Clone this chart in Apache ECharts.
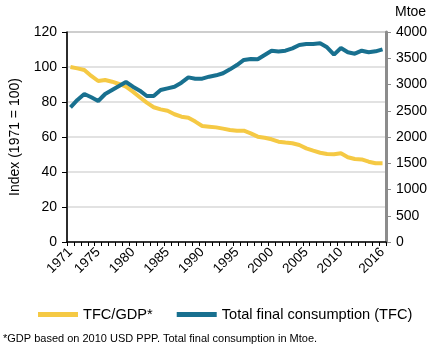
<!DOCTYPE html>
<html>
<head>
<meta charset="utf-8">
<script src="https://cdn.jsdelivr.net/npm/echarts@6/dist/echarts.min.js"></script>
<style>
  html, body { margin: 0; padding: 0; background: #fff; }
  #chart { width: 440px; height: 353px; }
</style>
</head>
<body>
<div id="chart"></div>
<script>
// years 1971..2016
var years = [];
for (var y = 1971; y <= 2016; y++) years.push(String(y));

// TFC/GDP index (1971 = 100), left axis
var tfcGdp = [100, 99.2, 98.3, 94.9, 92, 92.6, 91.6, 90.3, 88.8, 85.9,
  82.7, 79.6, 77, 75.8, 75, 73, 71.6, 71, 68.8, 66.3,
  65.9, 65.5, 64.8, 64, 63.6, 63.6, 62.1, 60.2, 59.6, 58.7,
  57.3, 56.8, 56.4, 55.4, 53.5, 52.2, 51, 50.3, 50.1, 50.7,
  48.4, 47.4, 47.2, 45.9, 45, 45];

// Total final consumption, Mtoe, right axis
var tfc = [2565, 2705, 2819, 2756, 2686, 2819, 2895, 2971, 3048, 2958,
  2882, 2781, 2781, 2895, 2927, 2958, 3035, 3136, 3111, 3111,
  3149, 3175, 3215, 3289, 3371, 3467, 3486, 3480, 3562, 3644,
  3630, 3644, 3689, 3752, 3771, 3771, 3784, 3708, 3568, 3695,
  3613, 3587, 3644, 3613, 3632, 3670];

var leftTicks = { min: 0, max: 120, step: 20 };
var rightTicks = { min: 0, max: 4000, step: 500 };

var yellow = '#F5C944';
var blue = '#18708F';
var font = 'Liberation Sans, Arial, sans-serif';

var chart = echarts.init(document.getElementById('chart'));
chart.setOption({
  animation: false,
  textStyle: { fontFamily: font },
  grid: {
    left: 62, right: 54, top: 32, bottom: 111,
    show: true, borderColor: '#666', borderWidth: 1
  },
  legend: {
    left: 33, top: 302,
    itemWidth: 40, itemHeight: 5, itemGap: 24,
    icon: 'rect',
    textStyle: { fontSize: 14.6, color: '#000', fontFamily: font },
    data: ['TFC/GDP*', 'Total final consumption (TFC)']
  },
  xAxis: {
    type: 'category',
    data: years,
    boundaryGap: true,
    axisLine: { lineStyle: { color: '#000', width: 1.5 } },
    axisTick: { show: true, interval: 0, length: 4, lineStyle: { color: '#000' } },
    axisLabel: {
      rotate: 45, fontSize: 13.5, color: '#000', margin: 8,
      interval: function (i, v) {
        var n = +v;
        return n === 1971 || n === 2016 || (n % 5 === 0 && n < 2015);
      }
    }
  },
  yAxis: [{
    type: 'value',
    min: leftTicks.min, max: leftTicks.max, interval: leftTicks.step,
    name: 'Index (1971 = 100)',
    nameLocation: 'middle', nameGap: 45,
    nameTextStyle: { fontSize: 14, color: '#000' },
    axisLine: { show: true, lineStyle: { color: '#000', width: 1.5 } },
    axisTick: { show: true, length: 5, lineStyle: { color: '#000' } },
    axisLabel: { fontSize: 14, color: '#000', margin: 10 },
    splitLine: { lineStyle: { color: '#d9d9d9', width: 1.5 } }
  }, {
    type: 'value',
    position: 'right',
    min: rightTicks.min, max: rightTicks.max, interval: rightTicks.step,
    axisLine: { show: true, lineStyle: { color: '#8c8c8c', width: 3 } },
    axisTick: { show: true, length: 5, lineStyle: { color: '#8c8c8c' } },
    axisLabel: {
      fontSize: 14, color: '#000', margin: 10,
      formatter: function (v) { return String(v); }
    },
    splitLine: { show: false }
  }],
  series: [{
    name: 'TFC/GDP*',
    type: 'line',
    yAxisIndex: 0,
    data: tfcGdp,
    symbol: 'none',
    itemStyle: { color: yellow },
    lineStyle: { color: yellow, width: 4 }
  }, {
    name: 'Total final consumption (TFC)',
    type: 'line',
    yAxisIndex: 1,
    data: tfc,
    symbol: 'none',
    itemStyle: { color: blue },
    lineStyle: { color: blue, width: 4 }
  }],
  graphic: [{
    type: 'text', left: 395, top: 5,
    style: { text: 'Mtoe', font: '14px ' + font, fill: '#000' }
  }, {
    type: 'text', left: 3, top: 333,
    style: { text: '*GDP based on 2010 USD PPP. Total final consumption in Mtoe.', font: '11px ' + font, fill: '#000' }
  }]
});
</script>
</body>
</html>
